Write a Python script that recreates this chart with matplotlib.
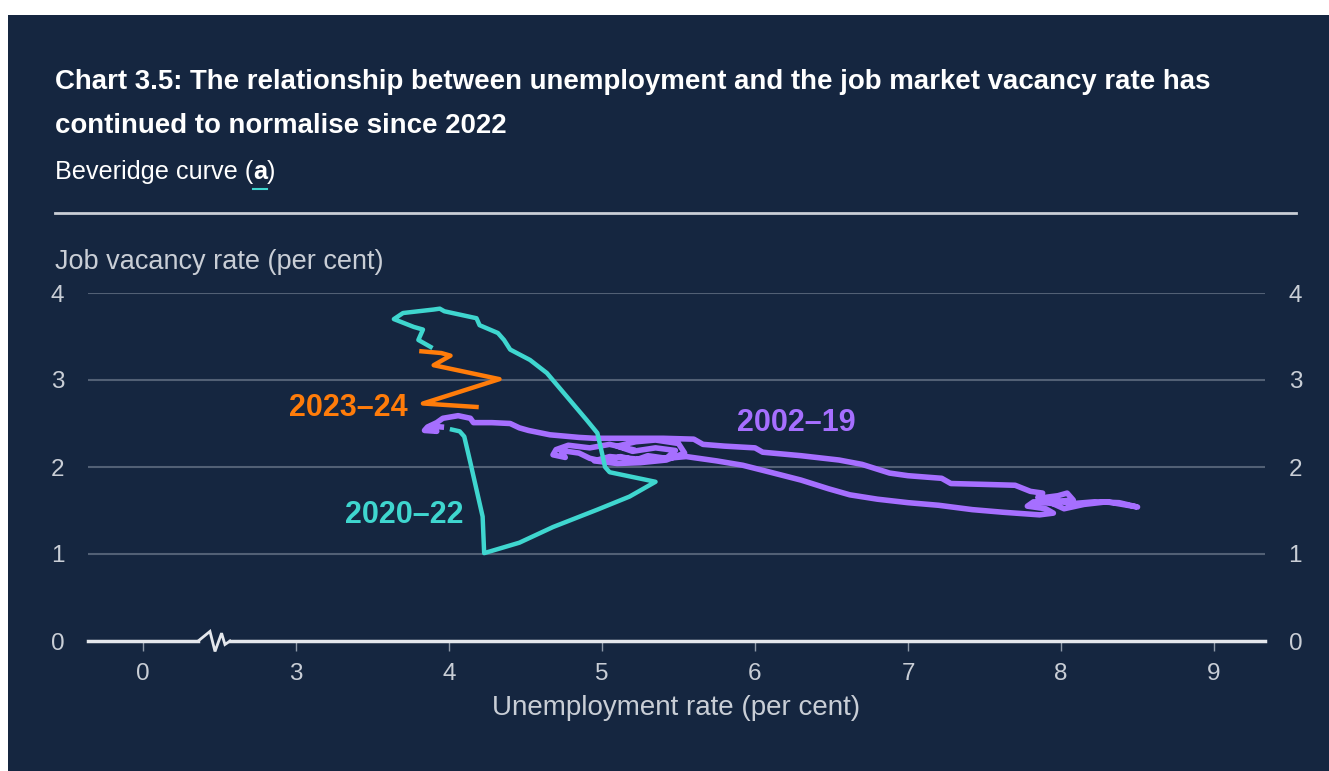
import matplotlib.pyplot as plt
from matplotlib.patches import Rectangle
from matplotlib.lines import Line2D

plt.rcParams['font.family'] = ['Liberation Sans', 'DejaVu Sans']

# Beveridge curve: unemployment rate (x) vs job vacancy rate (y), per cent
u_2002_19 = [5.20, 5.05, 4.92, 4.78, 4.70, 4.68, 4.76, 4.73, 4.85, 4.92, 5.02, 5.12, 5.22,
             5.30, 5.42, 5.48, 5.35, 5.20, 5.10, 5.22, 5.35, 5.50, 5.54, 5.42, 5.25, 5.10,
             4.95, 5.05, 5.30, 5.55,
             5.75, 5.92, 6.10, 6.30, 6.48, 6.62, 6.80, 7.00, 7.20, 7.42, 7.62, 7.78, 7.86,
             7.95, 7.90, 7.78, 7.82, 7.95, 7.85, 7.98, 8.04, 8.08, 7.92, 8.02, 8.15, 8.30,
             8.40, 8.50, 8.38, 8.22, 8.08, 7.96, 7.85, 7.88,
             7.80, 7.70, 7.50, 7.28, 7.22, 7.00, 6.88, 6.70, 6.55, 6.30, 6.05, 6.00, 5.80,
             5.66, 5.60, 5.40, 5.15, 4.95, 4.85, 4.66, 4.52, 4.46, 4.40, 4.28, 4.16, 4.14,
             4.06, 3.96, 3.92, 3.86, 3.84, 3.92, 3.88, 3.95]
v_2002_19 = [2.20, 2.26, 2.22, 2.25, 2.20, 2.14, 2.11, 2.19, 2.16, 2.10, 2.06, 2.12, 2.08,
             2.13, 2.10, 2.19, 2.22, 2.18, 2.24, 2.29, 2.31, 2.27, 2.16, 2.08, 2.05, 2.04,
             2.07, 2.12, 2.08, 2.12,
             2.07, 2.02, 1.94, 1.85, 1.75, 1.68, 1.63, 1.59, 1.56, 1.51, 1.48, 1.46, 1.45,
             1.47, 1.52, 1.55, 1.60, 1.58, 1.64, 1.67, 1.70, 1.62, 1.60, 1.52, 1.57, 1.60,
             1.57, 1.54, 1.59, 1.60, 1.58, 1.61, 1.66, 1.70,
             1.72, 1.79, 1.80, 1.81, 1.87, 1.90, 1.93, 2.03, 2.08, 2.13, 2.17, 2.22, 2.24,
             2.26, 2.32, 2.33, 2.33, 2.33, 2.34, 2.37, 2.42, 2.45, 2.50, 2.51, 2.51, 2.56,
             2.59, 2.56, 2.51, 2.46, 2.42, 2.41, 2.47, 2.46]

u_2020_22 = [4.02, 4.07, 4.10, 4.14, 4.18, 4.22, 4.23, 4.46, 4.68, 4.97, 5.18, 5.35, 5.05,
             5.02, 5.00, 4.97, 4.90, 4.77, 4.64, 4.53, 4.40, 4.36, 4.32, 4.20, 4.18, 3.97,
             3.94, 3.90, 3.70, 3.64, 3.77, 3.83, 3.80, 3.88]
v_2020_22 = [2.43, 2.41, 2.35, 2.05, 1.74, 1.43, 1.01, 1.13, 1.31, 1.51, 1.66, 1.83, 1.94,
             2.00, 2.16, 2.39, 2.54, 2.81, 3.08, 3.23, 3.35, 3.46, 3.54, 3.63, 3.71, 3.79,
             3.82, 3.81, 3.77, 3.70, 3.61, 3.58, 3.46, 3.38]

u_2023_24 = [3.82, 3.95, 4.01, 3.90, 4.33, 3.83, 4.18]
v_2023_24 = [3.33, 3.31, 3.28, 3.17, 3.01, 2.73, 2.69]

x_ticks = [2, 3, 4, 5, 6, 7, 8, 9]          # axis broken between 0 and 3
x_labels = ['0', '3', '4', '5', '6', '7', '8', '9']
y_ticks = [0, 1, 2, 3, 4]

BG = '#152640'
TEXT = '#c9ced6'
GRID = '#526075'
AXIS = '#e4e7ec'
PURPLE = '#a66fff'
TEAL = '#3fd6cf'
ORANGE = '#ff7c0a'

W, H = 1329, 771
fig = plt.figure(figsize=(W / 100, H / 100), dpi=100)
fig.patch.set_facecolor('white')
fig.add_artist(Rectangle((8 / W, 0), 1, 1 - 15 / H, transform=fig.transFigure,
                         facecolor=BG, edgecolor='none', zorder=-10))

# heading
fig.text(55 / W, 1 - 89 / H, 'Chart 3.5: The relationship between unemployment and the job market vacancy rate has',
         color='white', fontsize=19.9, fontweight='bold', va='baseline')
fig.text(55 / W, 1 - 133 / H, 'continued to normalise since 2022',
         color='white', fontsize=19.9, fontweight='bold', va='baseline')
sub = fig.text(55 / W, 1 - 179 / H, 'Beveridge curve (', color='white', fontsize=18.2, va='baseline')
renderer = fig.canvas.get_renderer()
bb = sub.get_window_extent(renderer)
a_txt = fig.text(bb.x1 / W, 1 - 179 / H, 'a', color='white', fontsize=18.2,
                 fontweight='bold', va='baseline')
bb_a = a_txt.get_window_extent(renderer)
fig.text(bb_a.x1 / W, 1 - 179 / H, ')', color='white', fontsize=18.2, va='baseline')
fig.add_artist(Line2D([bb_a.x0 / W, bb_a.x1 / W], [1 - 189 / H] * 2, color=TEAL, lw=1.5))
fig.add_artist(Line2D([55 / W, 1296 / W], [1 - 213 / H] * 2, color='#c9ced6', lw=2))

fig.text(55 / W, 1 - 269 / H, 'Job vacancy rate (per cent)', color=TEXT, fontsize=19.5, va='baseline')

ax = fig.add_axes([88 / W, 1 - 641 / H, (1265 - 88) / W, (641 - 293) / H])
ax.set_facecolor('none')
xmin, xmax = 1.641, 9.333
ax.set_xlim(xmin, xmax)
ax.set_ylim(0, 4)
for s in ax.spines.values():
    s.set_visible(False)

for y in y_ticks[1:]:
    ax.axhline(y, color=GRID, lw=1.5, zorder=1)

# baseline with break symbol
ax.plot([xmin, 2.361], [0, 0], color=AXIS, lw=2.5, clip_on=False, zorder=2)
ax.plot([2.361, 2.438, 2.471, 2.514, 2.536, 2.569], [0, 0.11, -0.12, 0.09, -0.04, 0],
        color=AXIS, lw=2, clip_on=False, zorder=2, solid_joinstyle='miter')
ax.plot([2.569, xmax], [0, 0], color=AXIS, lw=2.5, clip_on=False, zorder=2)

ax.plot(u_2002_19, v_2002_19, color=PURPLE, lw=4.0, zorder=3, solid_joinstyle='round')
ax.plot(u_2023_24, v_2023_24, color=ORANGE, lw=3.2, zorder=4, solid_joinstyle='round')
ax.plot(u_2020_22, v_2020_22, color=TEAL, lw=3.2, zorder=5, solid_joinstyle='round')

ax.text(3.34, 2.68, '2023–24', color=ORANGE, fontsize=22, fontweight='bold', ha='center', va='center')
ax.text(3.71, 1.45, '2020–22', color=TEAL, fontsize=22, fontweight='bold', ha='center', va='center')
ax.text(6.27, 2.51, '2002–19', color=PURPLE, fontsize=22, fontweight='bold', ha='center', va='center')

ax.set_xticks(x_ticks)
ax.set_xticklabels(x_labels)
ax.set_yticks(y_ticks)
ax.tick_params(axis='x', length=7, width=1, color='#8e99a8', labelcolor=TEXT, labelsize=17.5, pad=9)
ax.tick_params(axis='y', length=0, left=False, right=False, labelleft=True, labelright=True,
               labelcolor=TEXT, labelsize=17.5, pad=17)
ax.set_xlabel('Unemployment rate (per cent)', color=TEXT, fontsize=20, labelpad=7)

fig.savefig('out.png', dpi=100, facecolor=fig.get_facecolor())
